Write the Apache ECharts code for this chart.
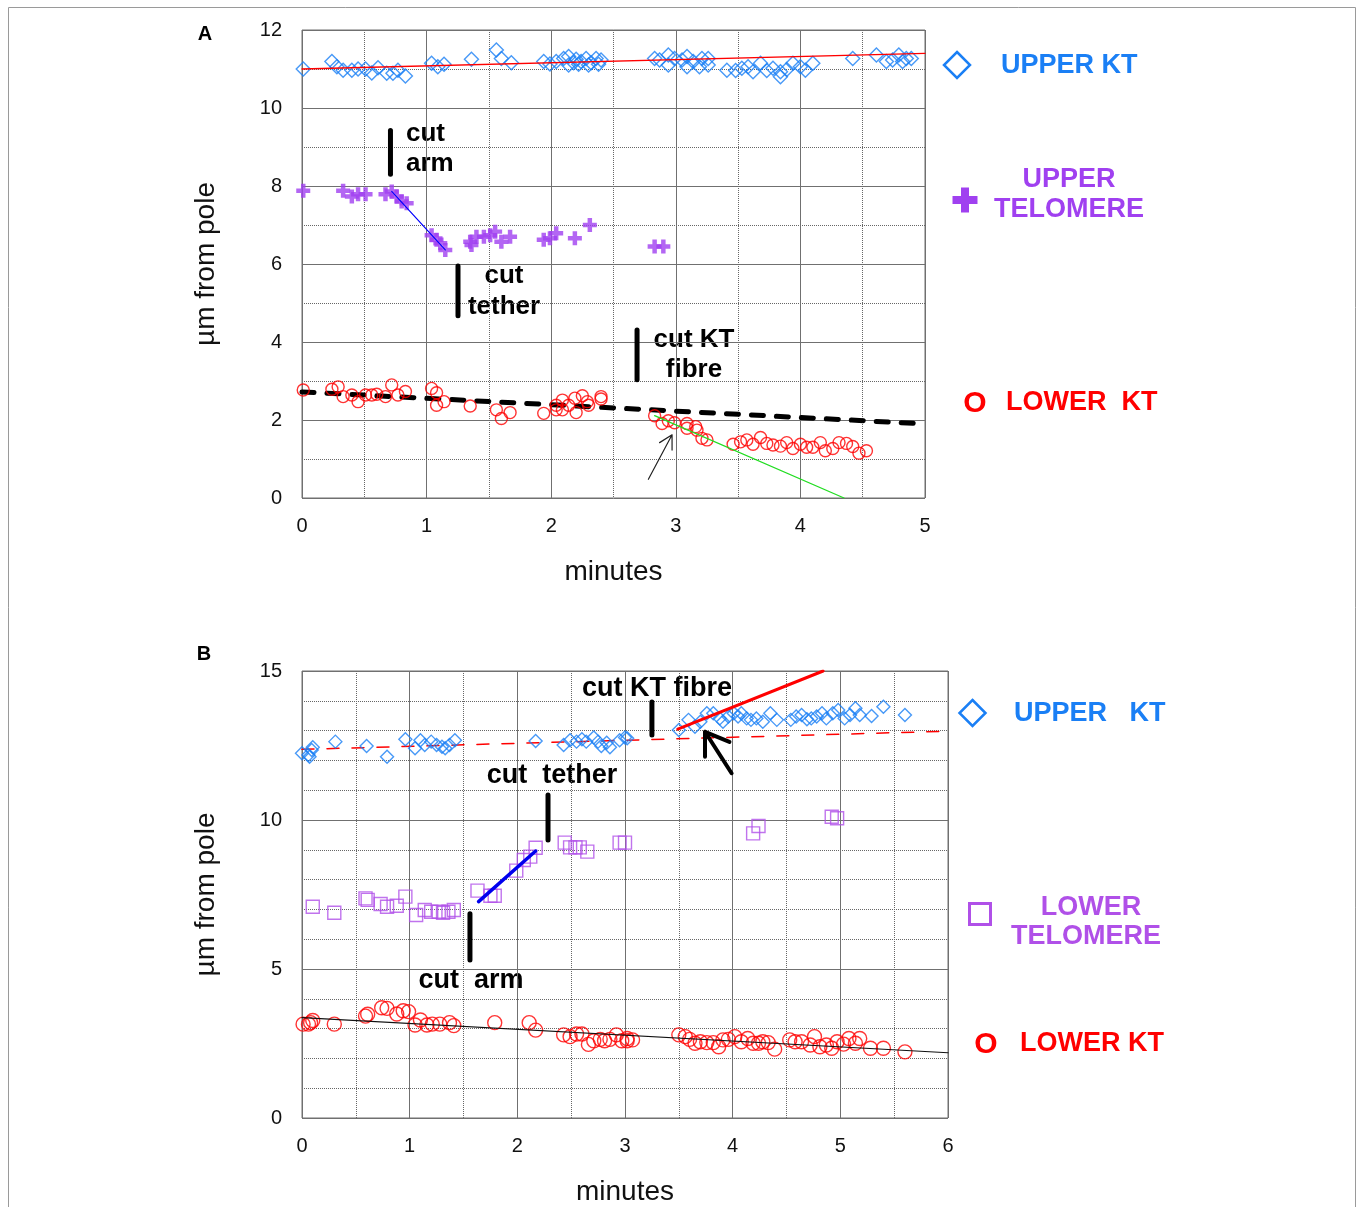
<!DOCTYPE html>
<html>
<head>
<meta charset="utf-8">
<title>KT and telomere positions</title>
<script src="https://cdn.jsdelivr.net/npm/echarts@6/dist/echarts.min.js"></script>
<style>
  html, body { margin: 0; padding: 0; background: #fff; }
  #chart { width: 1358px; height: 1207px; }
</style>
</head>
<body>
<div id="chart"></div>
<script>
// ---- panel A data: [minutes, µm from pole] ----
var upperKtA = [
  [0.01, 11.0], [0.24, 11.19], [0.28, 11.06], [0.33, 10.97], [0.40, 10.97], [0.45, 11.0],
  [0.51, 11.0], [0.56, 10.9], [0.61, 11.03], [0.68, 10.89], [0.73, 10.89], [0.77, 10.97],
  [0.83, 10.82], [1.04, 11.15], [1.09, 11.06], [1.14, 11.12], [1.36, 11.25], [1.56, 11.49],
  [1.60, 11.27], [1.68, 11.16], [1.94, 11.19], [1.99, 11.13], [2.04, 11.19], [2.10, 11.27],
  [2.14, 11.32], [2.14, 11.1], [2.18, 11.16], [2.20, 11.25], [2.22, 11.12], [2.24, 11.19],
  [2.28, 11.27], [2.30, 11.1], [2.32, 11.16], [2.36, 11.27], [2.38, 11.12], [2.40, 11.23],
  [2.83, 11.27], [2.87, 11.23], [2.94, 11.36], [2.94, 11.1], [2.99, 11.27], [3.05, 11.23],
  [3.09, 11.32], [3.09, 11.06], [3.14, 11.19], [3.19, 11.06], [3.21, 11.27], [3.26, 11.27],
  [3.26, 11.1], [3.41, 10.97], [3.48, 10.96], [3.53, 11.02], [3.58, 11.06], [3.62, 10.93],
  [3.68, 11.15], [3.73, 10.96], [3.78, 11.02], [3.84, 10.93], [3.84, 10.8], [3.89, 10.99],
  [3.94, 11.15], [4.00, 11.06], [4.04, 10.97], [4.10, 11.15], [4.42, 11.27], [4.61, 11.36],
  [4.69, 11.19], [4.74, 11.23], [4.79, 11.36], [4.82, 11.19], [4.85, 11.27], [4.89, 11.27]
];
var upperTelA = [
  [0.01, 7.88], [0.33, 7.88], [0.40, 7.73], [0.45, 7.79], [0.51, 7.79], [0.67, 7.79],
  [0.72, 7.86], [0.76, 7.73], [0.80, 7.6], [0.84, 7.56], [1.04, 6.74], [1.08, 6.62],
  [1.11, 6.53], [1.15, 6.36], [1.35, 6.57], [1.36, 6.49], [1.40, 6.7], [1.46, 6.7],
  [1.51, 6.74], [1.55, 6.83], [1.60, 6.57], [1.67, 6.7], [1.94, 6.62], [1.99, 6.66],
  [2.04, 6.79], [2.19, 6.66], [2.31, 7.0], [2.83, 6.45], [2.90, 6.45]
];
var lowerKtA = [
  [0.01, 2.77], [0.24, 2.79], [0.29, 2.85], [0.33, 2.6], [0.40, 2.64], [0.45, 2.47],
  [0.51, 2.64], [0.56, 2.64], [0.60, 2.66], [0.67, 2.6], [0.72, 2.9], [0.77, 2.64],
  [0.83, 2.73], [1.04, 2.81], [1.08, 2.7], [1.08, 2.38], [1.14, 2.47], [1.35, 2.36],
  [1.56, 2.26], [1.60, 2.04], [1.67, 2.19], [1.94, 2.17], [2.04, 2.38], [2.09, 2.51],
  [2.04, 2.26], [2.09, 2.26], [2.14, 2.38], [2.19, 2.56], [2.20, 2.19], [2.25, 2.62],
  [2.29, 2.47], [2.30, 2.38], [2.40, 2.6], [2.40, 2.54], [2.83, 2.11], [2.89, 1.91],
  [2.94, 1.98], [2.99, 1.93], [3.09, 1.91], [3.09, 1.79], [3.16, 1.83], [3.17, 1.74],
  [3.21, 1.53], [3.25, 1.49], [3.46, 1.38], [3.52, 1.44], [3.57, 1.49], [3.62, 1.38],
  [3.68, 1.55], [3.73, 1.40], [3.78, 1.36], [3.84, 1.33], [3.89, 1.42], [3.94, 1.27],
  [4.00, 1.38], [4.05, 1.30], [4.10, 1.30], [4.16, 1.42], [4.20, 1.21], [4.26, 1.27],
  [4.31, 1.42], [4.37, 1.40], [4.42, 1.32], [4.47, 1.15], [4.53, 1.21]
];
var fitUpperKtA = [[0, 11.0], [5, 11.4]];
var fitUpperTelA = [[0.72, 7.86], [1.15, 6.36]];
var fitLowerKtA = [[0, 2.72], [5, 1.9]];
var fitCutA = [[2.83, 2.11], [4.35, 0]];

// ---- panel B data ----
var upperKtB = [
  [0.0, 12.24], [0.06, 12.18], [0.07, 12.12], [0.09, 12.35], [0.10, 12.44], [0.31, 12.63],
  [0.60, 12.48], [0.79, 12.12], [0.96, 12.71], [1.05, 12.41], [1.10, 12.68], [1.14, 12.52],
  [1.20, 12.63], [1.25, 12.52], [1.30, 12.46], [1.33, 12.41], [1.37, 12.52], [1.42, 12.68],
  [2.17, 12.65], [2.43, 12.52], [2.49, 12.68], [2.55, 12.63], [2.60, 12.71], [2.64, 12.63],
  [2.71, 12.77], [2.75, 12.63], [2.78, 12.48], [2.83, 12.59], [2.86, 12.44], [2.95, 12.68],
  [3.0, 12.77], [3.02, 12.74], [3.50, 13.02], [3.59, 13.36], [3.65, 13.13], [3.70, 13.30],
  [3.76, 13.58], [3.82, 13.58], [3.88, 13.41], [3.91, 13.30], [3.96, 13.47], [4.01, 13.58],
  [4.05, 13.47], [4.08, 13.58], [4.13, 13.41], [4.17, 13.36], [4.22, 13.41], [4.28, 13.30],
  [4.35, 13.58], [4.41, 13.36], [4.54, 13.36], [4.59, 13.47], [4.64, 13.52], [4.69, 13.38],
  [4.73, 13.41], [4.78, 13.47], [4.83, 13.58], [4.87, 13.41], [4.93, 13.58], [4.98, 13.69],
  [5.04, 13.41], [5.09, 13.52], [5.14, 13.75], [5.18, 13.52], [5.29, 13.49], [5.40, 13.80],
  [5.60, 13.52]
];
var lowerTelB = [
  [0.10, 7.09], [0.30, 6.89], [0.59, 7.37], [0.61, 7.32], [0.73, 7.18], [0.79, 7.09],
  [0.88, 7.12], [0.96, 7.43], [1.06, 6.81], [1.14, 6.98], [1.20, 6.92], [1.27, 6.92],
  [1.31, 6.89], [1.36, 6.92], [1.41, 6.98], [1.63, 7.63], [1.75, 7.46], [1.79, 7.46],
  [1.99, 8.30], [2.06, 8.66], [2.12, 8.77], [2.17, 9.07], [2.44, 9.24], [2.49, 9.08],
  [2.54, 9.08], [2.58, 9.08], [2.65, 8.94], [2.95, 9.24], [3.0, 9.24], [4.19, 9.55],
  [4.24, 9.80], [4.92, 10.11], [4.97, 10.06]
];
var lowerKtB = [
  [0.01, 3.15], [0.06, 3.15], [0.08, 3.2], [0.10, 3.27], [0.30, 3.15], [0.59, 3.42],
  [0.61, 3.48], [0.74, 3.70], [0.79, 3.68], [0.88, 3.49], [0.94, 3.60], [0.99, 3.57],
  [1.05, 3.12], [1.10, 3.29], [1.16, 3.12], [1.21, 3.15], [1.28, 3.15], [1.37, 3.2],
  [1.41, 3.10], [1.79, 3.20], [2.11, 3.20], [2.17, 2.95], [2.43, 2.79], [2.49, 2.73],
  [2.55, 2.82], [2.60, 2.82], [2.66, 2.47], [2.71, 2.59], [2.77, 2.64], [2.81, 2.59],
  [2.86, 2.64], [2.92, 2.79], [2.97, 2.59], [3.02, 2.59], [3.02, 2.67], [3.07, 2.62],
  [3.50, 2.79], [3.56, 2.73], [3.60, 2.64], [3.65, 2.51], [3.70, 2.56], [3.76, 2.53],
  [3.82, 2.53], [3.87, 2.39], [3.91, 2.62], [3.96, 2.64], [4.02, 2.73], [4.08, 2.56],
  [4.14, 2.67], [4.19, 2.51], [4.24, 2.51], [4.28, 2.56], [4.33, 2.53], [4.39, 2.31],
  [4.53, 2.62], [4.58, 2.56], [4.64, 2.56], [4.72, 2.45], [4.76, 2.73], [4.81, 2.39],
  [4.87, 2.45], [4.92, 2.34], [4.97, 2.56], [5.03, 2.48], [5.08, 2.67], [5.14, 2.51],
  [5.18, 2.67], [5.28, 2.34], [5.40, 2.34], [5.60, 2.22]
];
var fitUpperKtB = [[0, 12.37], [6, 12.98]];
var fitCutKtB = [[3.49, 13.05], [4.84, 15.0]];
var fitTelB = [[1.64, 7.26], [2.17, 8.96]];
var fitLowerKtB = [[0, 3.37], [6, 2.19]];

// cut markers (vertical bars) and arrows, in data units
var cutBarsA = [[[0.71, 9.42], [0.71, 8.3]], [[1.252, 5.95], [1.252, 4.67]], [[2.689, 4.31], [2.689, 3.03]]];
var cutBarsB = [[[3.25, 13.96], [3.25, 12.85]], [[2.285, 10.84], [2.285, 9.33]], [[1.56, 6.85], [1.56, 5.30]]];
var arrowA = [[2.78, 0.48], [2.97, 1.62], null, [2.87, 1.42], [2.97, 1.62], [2.97, 1.23]];
var arrowB = [[3.99, 11.57], [3.743, 12.96], null, [3.743, 12.12], [3.743, 12.96], [3.97, 12.62]];

var FONT = "'Liberation Sans', Arial, sans-serif";
var BLUE = '#1a7ff5';
var PURPLE = '#a040f0';
var RED = '#ff0000';
var CROSS = 'path://M3.4,0H6.6V3.4H10V6.6H6.6V10H3.4V6.6H0V3.4H3.4Z';

function xAx(idx, max, gap) {
  return {
    gridIndex: idx, type: 'value', min: 0, max: max, interval: 1,
    axisLine: { show: false }, axisTick: { show: false },
    axisLabel: { fontSize: 20, color: '#111', margin: 18, fontFamily: FONT },
    splitLine: { show: true, lineStyle: { color: '#707070', width: 1 } },
    minorTick: { show: false, splitNumber: 2 },
    minorSplitLine: { show: true, lineStyle: { color: '#666', width: 1, type: 'dotted' } },
    name: 'minutes', nameLocation: 'middle', nameGap: gap,
    nameTextStyle: { fontSize: 28, color: '#111', fontFamily: FONT }
  };
}
function yAx(idx, max, step, minor) {
  return {
    gridIndex: idx, type: 'value', min: 0, max: max, interval: step,
    axisLine: { show: false }, axisTick: { show: false },
    axisLabel: { fontSize: 20, color: '#111', margin: 20, fontFamily: FONT },
    splitLine: { show: true, lineStyle: { color: '#707070', width: 1 } },
    minorTick: { show: false, splitNumber: minor },
    minorSplitLine: { show: true, lineStyle: { color: '#666', width: 1, type: 'dotted' } },
    name: 'µm from pole', nameLocation: 'middle', nameGap: 82, nameRotate: 90,
    nameTextStyle: { fontSize: 28, color: '#111', fontFamily: FONT }
  };
}
function dots(idx, data, symbol, size, color, z) {
  return {
    type: 'scatter', xAxisIndex: idx, yAxisIndex: idx, data: data,
    symbol: symbol, symbolSize: size, z: z || 3, silent: true,
    itemStyle: symbol === CROSS ? { color: color } :
      { color: 'rgba(255,255,255,0)', borderColor: color, borderWidth: 1.4 }
  };
}
function line(idx, data, color, width, type, z) {
  return {
    type: 'line', xAxisIndex: idx, yAxisIndex: idx, data: data,
    symbol: 'none', silent: true, z: z || 4, connectNulls: false,
    lineStyle: { color: color, width: width, type: type || 'solid', cap: 'round', join: 'round' }
  };
}
function bars(idx, list) {
  return list.map(function (seg) { return line(idx, seg, '#000', 5, 'solid', 5); });
}

function txt(x, y, s, size, color, align, weight) {
  return {
    type: 'text', x: x, y: y, silent: true,
    style: {
      text: s, fill: color, font: (weight || 'bold') + ' ' + size + 'px ' + FONT,
      textAlign: align || 'center', textVerticalAlign: 'middle', verticalAlign: 'middle'
    }
  };
}

var chart = echarts.init(document.getElementById('chart'));
chart.setOption({
  animation: false,
  backgroundColor: '#fff',
  grid: [
    { left: 302, top: 30, width: 623, height: 468, show: true, borderColor: '#707070', borderWidth: 1 },
    { left: 302, top: 671, width: 646, height: 447, show: true, borderColor: '#707070', borderWidth: 1 }
  ],
  xAxis: [xAx(0, 5, 60), xAx(1, 6, 60)],
  yAxis: [yAx(0, 12, 2, 2), yAx(1, 15, 5, 5)],
  series: [
    line(0, fitLowerKtA, '#000', 5, [12, 13], 2),
    dots(0, upperKtA, 'diamond', 14, BLUE),
    dots(0, upperTelA, CROSS, 14, PURPLE),
    dots(0, lowerKtA, 'circle', 12, RED),
    line(0, fitUpperKtA, RED, 1.3),
    line(0, fitUpperTelA, '#0000ff', 1.2),
    line(0, fitCutA, '#22dd22', 1.3),
    line(0, arrowA, '#222', 1.2)
  ].concat(bars(0, cutBarsA)).concat([
    line(1, fitUpperKtB, RED, 1.5, [12, 13], 2),
    dots(1, upperKtB, 'diamond', 13, BLUE),
    dots(1, lowerTelB, 'rect', 13, '#b050e8'),
    dots(1, lowerKtB, 'circle', 14, RED),
    line(1, fitCutKtB, RED, 3),
    line(1, fitTelB, '#0000ee', 3.5),
    line(1, fitLowerKtB, '#111', 1.2),
    line(1, arrowB, '#000', 4, 'solid', 6)
  ]).concat(bars(1, cutBarsB)),
  graphic: [
    { type: 'rect', silent: true, shape: { x: 8.5, y: 7.5, width: 1347, height: 1220 },
      style: { fill: 'none', stroke: '#9a9a9a', lineWidth: 1 } },
    txt(205, 34, 'A', 20, '#000'),
    txt(204, 654, 'B', 20, '#000'),

    // panel A annotations
    txt(406, 134, 'cut', 26, '#000', 'left'),
    txt(406, 164, 'arm', 26, '#000', 'left'),
    txt(504, 276, 'cut', 26, '#000'),
    txt(504, 307, 'tether', 26, '#000'),
    txt(694, 340, 'cut KT', 26, '#000'),
    txt(694, 370, 'fibre', 26, '#000'),

    // panel A legend
    { type: 'polygon', silent: true, shape: { points: [[957, 52], [970, 65], [957, 78], [944, 65]] },
      style: { fill: 'none', stroke: BLUE, lineWidth: 2.5 } },
    txt(1001, 66, 'UPPER KT', 27, BLUE, 'left'),
    { type: 'rect', silent: true, shape: { x: 952.5, y: 196, width: 25, height: 8 }, style: { fill: PURPLE } },
    { type: 'rect', silent: true, shape: { x: 961, y: 187.5, width: 8, height: 25 }, style: { fill: PURPLE } },
    txt(1069, 180, 'UPPER', 27, PURPLE),
    txt(1069, 210, 'TELOMERE', 27, PURPLE),
    txt(975, 404, 'O', 30, RED),
    txt(1006, 403, 'LOWER  KT', 27, RED, 'left'),

    // panel B annotations
    txt(657, 689, 'cut KT fibre', 27, '#000'),
    txt(552, 776, 'cut  tether', 27, '#000'),
    txt(471, 981, 'cut  arm', 27, '#000'),

    // panel B legend
    { type: 'polygon', silent: true, shape: { points: [[972.5, 700], [985.5, 713], [972.5, 726], [959.5, 713]] },
      style: { fill: 'none', stroke: BLUE, lineWidth: 2.5 } },
    txt(1014, 714, 'UPPER   KT', 27, BLUE, 'left'),
    { type: 'rect', silent: true, shape: { x: 969.5, y: 903.5, width: 21, height: 21 },
      style: { fill: 'none', stroke: '#b050e8', lineWidth: 3 } },
    txt(1091, 908, 'LOWER', 27, '#b050e8'),
    txt(1086, 937, 'TELOMERE', 27, '#b050e8'),
    txt(986, 1045, 'O', 30, RED),
    txt(1020, 1044, 'LOWER KT', 27, RED, 'left')
  ]
});
</script>
</body>
</html>
